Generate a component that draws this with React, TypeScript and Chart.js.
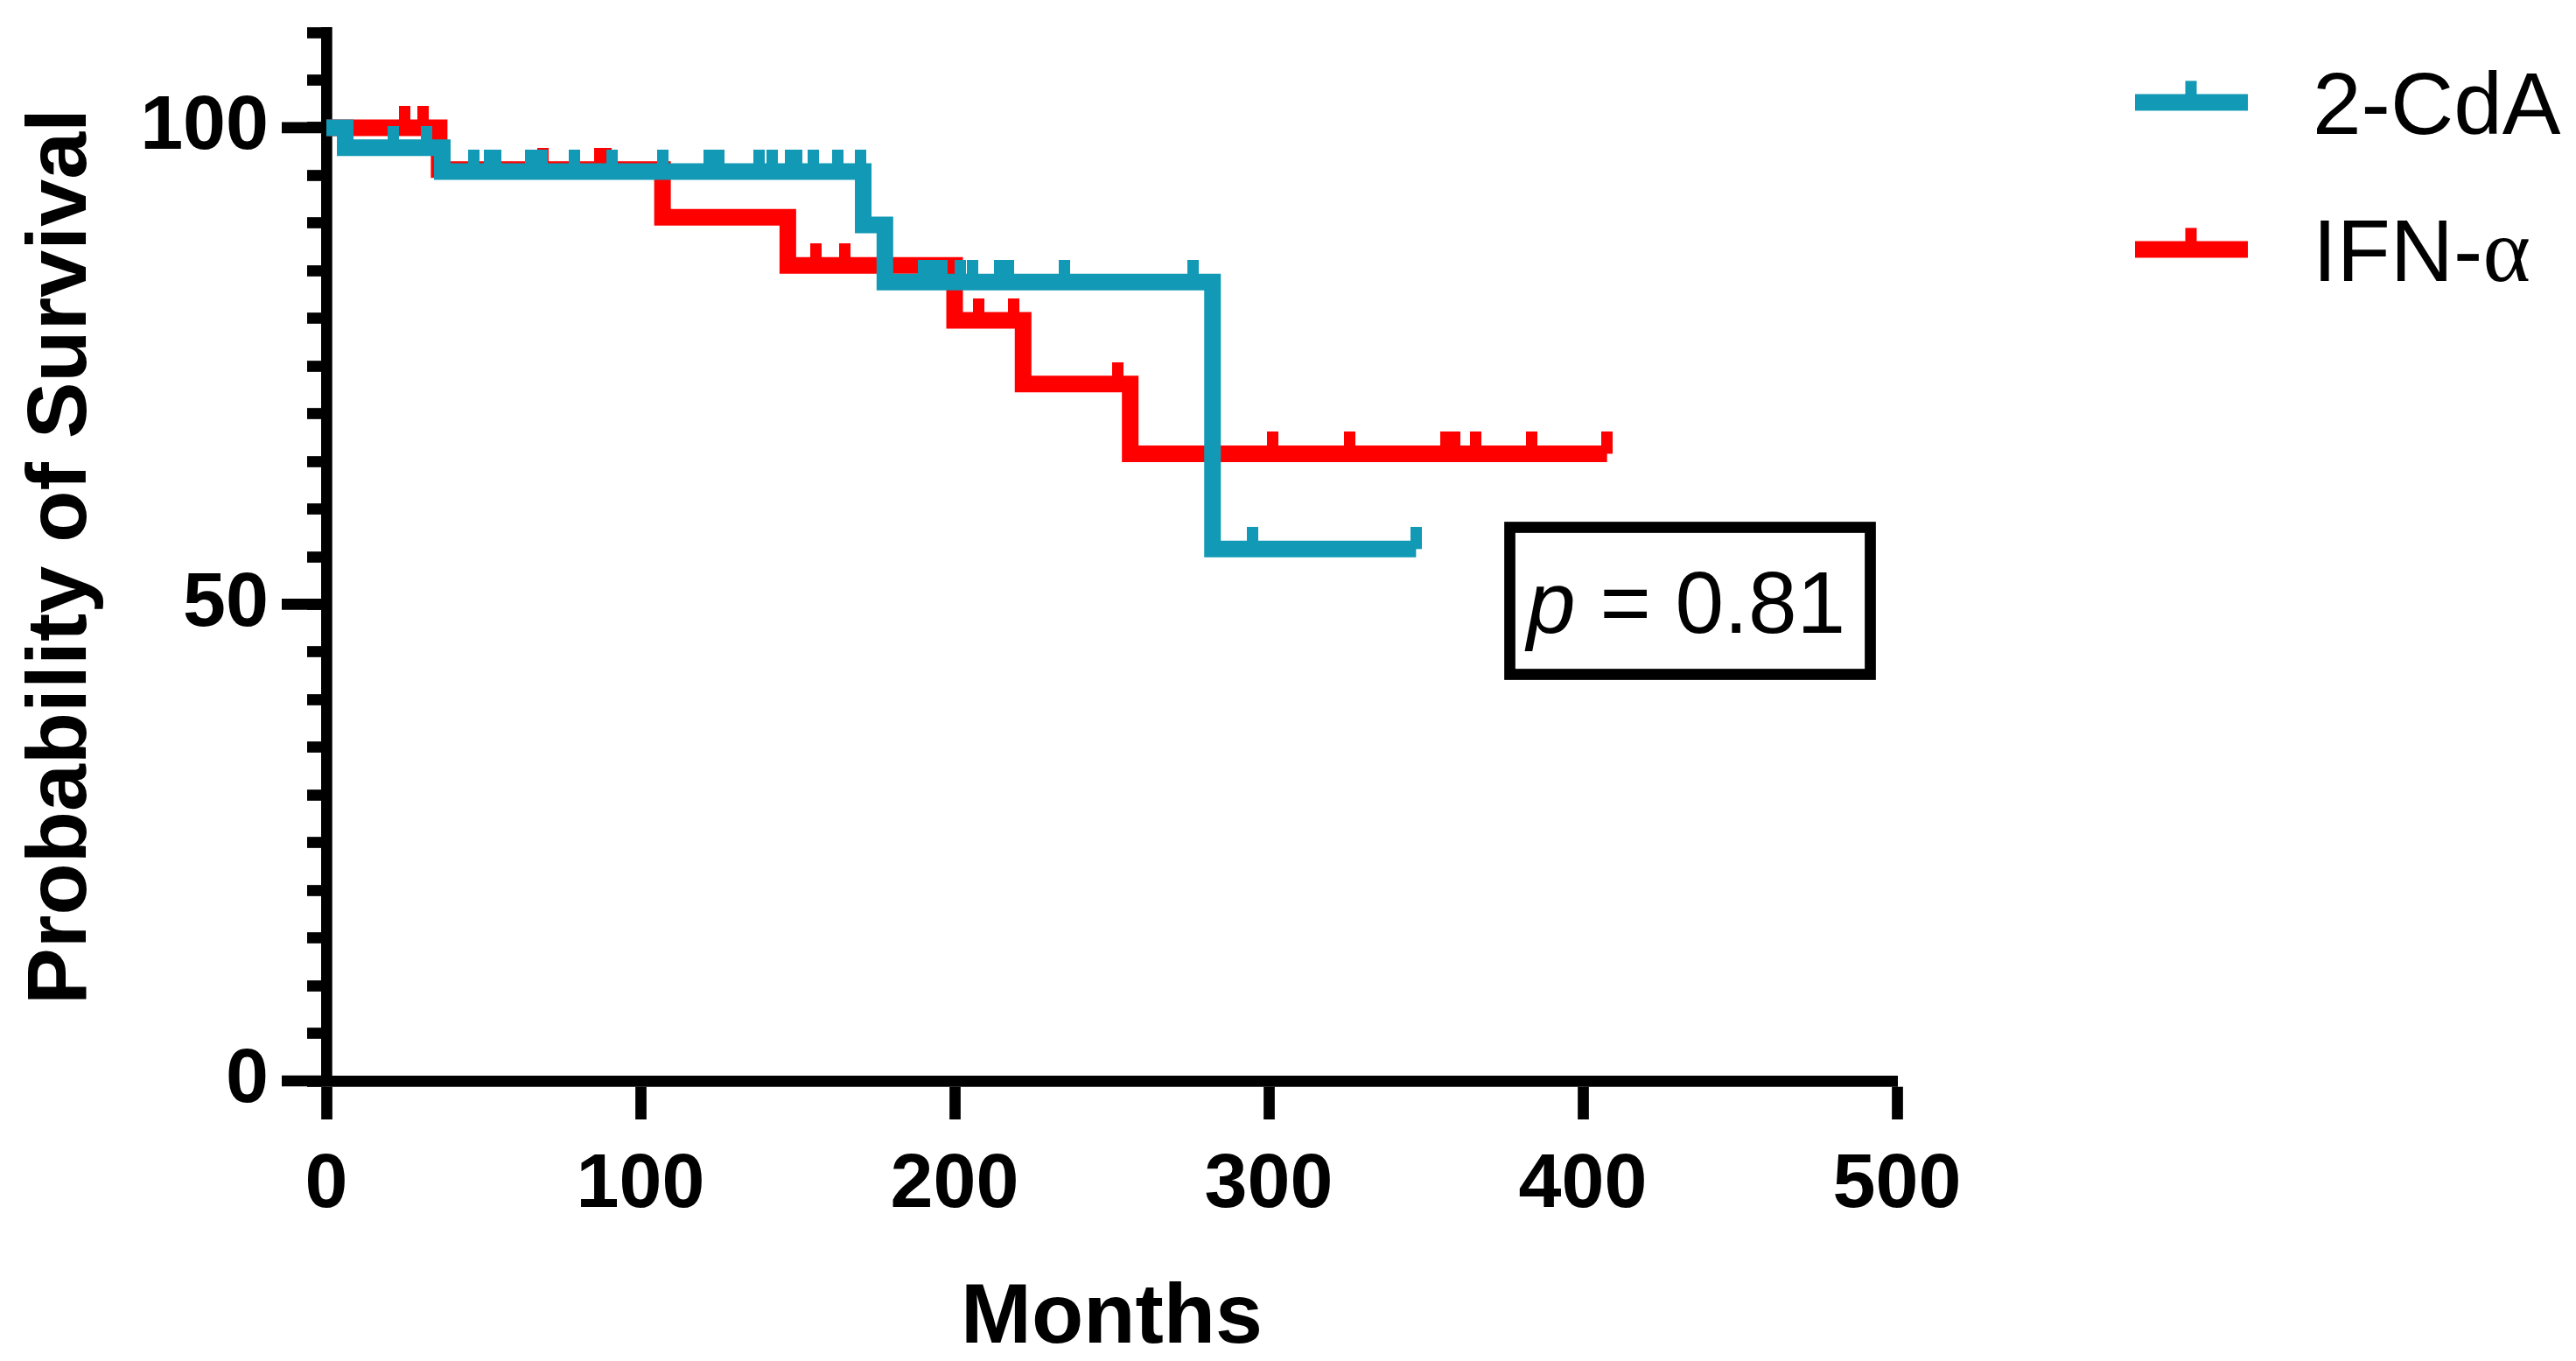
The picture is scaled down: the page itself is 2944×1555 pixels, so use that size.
import React, { useEffect, useRef } from 'react';
import { Chart, registerables } from 'chart.js';

Chart.register(...registerables);

// ---------- data ----------
const seriesNames = ['2-CdA', 'IFN-α'];
const seriesColors = ['#1199B5', '#FF0000'];

const cdaEventMonths = [0, 6.0, 36.9, 170.9, 177.8, 282.1];
const cdaEventSurvival = [100, 97.9, 95.4, 89.8, 83.8, 55.8];
const cdaCensorMonths = [
  21.3, 31.8, 46.9, 52.0, 53.8, 65.0, 68.8, 78.9, 91.0, 107.1, 121.9, 124.8,
  137.7, 141.8, 147.8, 149.7, 155.0, 162.8, 170.1, 190.2, 192.7, 195.9, 201.9,
  205.6, 214.4, 217.2, 235.0, 275.9, 294.8, 346.9,
];

const ifnEventMonths = [0, 35.9, 107.0, 146.9, 200.0, 221.8, 255.9];
const ifnEventSurvival = [100, 95.6, 90.6, 85.55, 79.8, 73.1, 65.8];
const ifnCensorMonths = [
  24.9, 30.8, 68.9, 87.0, 88.9, 155.8, 165.0, 207.6, 218.8, 251.9, 301.2,
  325.7, 356.5, 359.3, 365.9, 383.8, 407.7,
];

const xTickValues = [0, 100, 200, 300, 400, 500];
const yLabelValues = [0, 50, 100];
const yMinorStep = 5;
const yMax = 110;
const xTitle = 'Months';
const yTitle = 'Probability of Survival';
const pLabel = 'p';
const pValueText = ' = 0.81';

// ---------- helpers ----------
function levelAt(times: number[], surv: number[], t: number) {
  let v = surv[0];
  for (let i = 0; i < times.length; i++) if (times[i] <= t) v = surv[i];
  return v;
}
function stepLine(times: number[], surv: number[], censors: number[]) {
  const pts = times.map((t, i) => ({ x: t, y: surv[i] }));
  const last = Math.max(...censors);
  if (last > times[times.length - 1]) pts.push({ x: last, y: levelAt(times, surv, last) });
  return pts;
}
function censorPoints(times: number[], surv: number[], censors: number[]) {
  return censors.map((t) => ({ x: t, y: levelAt(times, surv, t) }));
}
function makeTick(color: string) {
  const c = document.createElement('canvas');
  c.width = 13;
  c.height = 50;
  const g = c.getContext('2d')!;
  g.fillStyle = color;
  g.fillRect(0, 0, 13, 25);
  return c;
}

const FONT = '"Liberation Sans", Arial, sans-serif';
const LW = 12.7;

const decorPlugin = {
  id: 'decor',
  afterDraw(chart: any) {
    const ctx = chart.ctx as CanvasRenderingContext2D;
    const y = chart.scales.y;
    ctx.save();
    ctx.fillStyle = '#000';
    ctx.strokeStyle = '#000';
    // major y ticks (longer)
    ctx.lineWidth = LW;
    ctx.lineCap = 'butt';
    yLabelValues.forEach((v) => {
      const py = y.getPixelForValue(v);
      ctx.beginPath();
      ctx.moveTo(322, py);
      ctx.lineTo(373, py);
      ctx.stroke();
    });

    // axis titles
    ctx.font = `bold 97px ${FONT}`;
    ctx.textAlign = 'center';
    ctx.textBaseline = 'alphabetic';
    ctx.fillText(xTitle, (chart.chartArea.left + chart.chartArea.right) / 2, 1534);
    ctx.save();
    ctx.translate(98, 636);
    ctx.rotate(-Math.PI / 2);
    ctx.fillText(yTitle, 0, 0);
    ctx.restore();

    // legend
    const rows = [117, 285];
    seriesNames.forEach((name, i) => {
      const ry = rows[i];
      ctx.strokeStyle = seriesColors[i];
      ctx.fillStyle = seriesColors[i];
      ctx.lineWidth = 19;
      ctx.beginPath();
      ctx.moveTo(2440, ry);
      ctx.lineTo(2569, ry);
      ctx.stroke();
      ctx.fillRect(2504 - 6.5, ry - 24.6, 13, 24.6);
      ctx.fillStyle = '#000';
      ctx.textAlign = 'left';
      ctx.textBaseline = 'alphabetic';
      const base = ry + 36;
      if (name.endsWith('α')) {
        const head = name.slice(0, -1);
        ctx.font = `100px ${FONT}`;
        ctx.fillText(head, 2643, base);
        const w = ctx.measureText(head).width;
        ctx.font = `104px "Liberation Serif", serif`;
        ctx.fillText('α', 2643 + w, base);
      } else {
        ctx.font = `100px ${FONT}`;
        ctx.fillText(name, 2643, base);
      }
    });

    // p-value box
    ctx.strokeStyle = '#000';
    ctx.lineWidth = LW;
    ctx.strokeRect(1725.5, 602.5, 412, 168);
    ctx.fillStyle = '#000';
    ctx.textAlign = 'left';
    ctx.font = `italic 100px ${FONT}`;
    ctx.fillText(pLabel, 1745, 723);
    const pw = ctx.measureText(pLabel).width;
    ctx.font = `100px ${FONT}`;
    ctx.fillText(pValueText, 1745 + pw, 723);
    ctx.restore();
  },
};

export default function App() {
  const ref = useRef<HTMLCanvasElement | null>(null);
  useEffect(() => {
    if (!ref.current) return;
    const tealTick = makeTick(seriesColors[0]);
    const redTick = makeTick(seriesColors[1]);
    const chart = new Chart(ref.current, {
      type: 'line',
      data: {
        datasets: [
          {
            label: seriesNames[0] + ' censored',
            data: censorPoints(cdaEventMonths, cdaEventSurvival, cdaCensorMonths),
            showLine: false,
            pointStyle: tealTick as any,
            pointRadius: 1,
            order: 0,
          },
          {
            label: seriesNames[0],
            data: stepLine(cdaEventMonths, cdaEventSurvival, cdaCensorMonths),
            stepped: 'before',
            borderColor: seriesColors[0],
            borderWidth: 19,
            pointRadius: 0,
            fill: false,
            borderJoinStyle: 'miter',
            borderCapStyle: 'butt',
            order: 1,
          },
          {
            label: seriesNames[1] + ' censored',
            data: censorPoints(ifnEventMonths, ifnEventSurvival, ifnCensorMonths),
            showLine: false,
            pointStyle: redTick as any,
            pointRadius: 1,
            order: 2,
          },
          {
            label: seriesNames[1],
            data: stepLine(ifnEventMonths, ifnEventSurvival, ifnCensorMonths),
            stepped: 'before',
            borderColor: seriesColors[1],
            borderWidth: 19,
            pointRadius: 0,
            fill: false,
            borderJoinStyle: 'miter',
            borderCapStyle: 'butt',
            order: 3,
          },
        ],
      },
      options: {
        animation: false,
        responsive: false,
        devicePixelRatio: 1,
        events: [],
        layout: { padding: { top: 37, right: 776, bottom: 0, left: 0 } },
        plugins: { legend: { display: false }, tooltip: { enabled: false } },
        scales: {
          x: {
            type: 'linear',
            min: xTickValues[0],
            max: xTickValues[xTickValues.length - 1],
            afterBuildTicks: (s: any) => {
              s.ticks = xTickValues.map((v) => ({ value: v }));
            },
            grid: {
              display: true,
              drawOnChartArea: false,
              drawTicks: true,
              tickLength: 44,
              tickWidth: LW,
              tickColor: '#000',
            },
            border: { display: true, width: LW, color: '#000' },
            ticks: {
              color: '#000',
              padding: 32,
              maxRotation: 0,
              font: { family: FONT, size: 88, weight: 'bold', lineHeight: 1 },
              callback: (v: any) => String(v),
            },
            afterFit: (s: any) => {
              s.height = 320;
              s.paddingLeft = 0;
              s.paddingRight = 0;
            },
          },
          y: {
            type: 'linear',
            min: 0,
            max: yMax,
            ticks: {
              stepSize: yMinorStep,
              color: '#000',
              padding: 44,
              autoSkip: false,
              font: { family: FONT, size: 88, weight: 'bold', lineHeight: 1 },
              callback: (v: any) => (yLabelValues.includes(Number(v)) ? String(v) : ''),
            },
            grid: {
              display: true,
              drawOnChartArea: false,
              drawTicks: true,
              tickLength: 22,
              tickWidth: LW,
              tickColor: '#000',
            },
            border: { display: true, width: LW, color: '#000' },
            afterFit: (s: any) => {
              s.width = 373;
              s.paddingTop = 0;
              s.paddingBottom = 0;
            },
          },
        },
      },
      plugins: [decorPlugin],
    });
    return () => chart.destroy();
  }, []);

  return (
    <div style={{ position: 'fixed', left: 0, top: 0, width: 2944, height: 1555, background: '#fff' }}>
      <canvas ref={ref} width={2944} height={1555} style={{ display: 'block', width: 2944, height: 1555 }} />
    </div>
  );
}
